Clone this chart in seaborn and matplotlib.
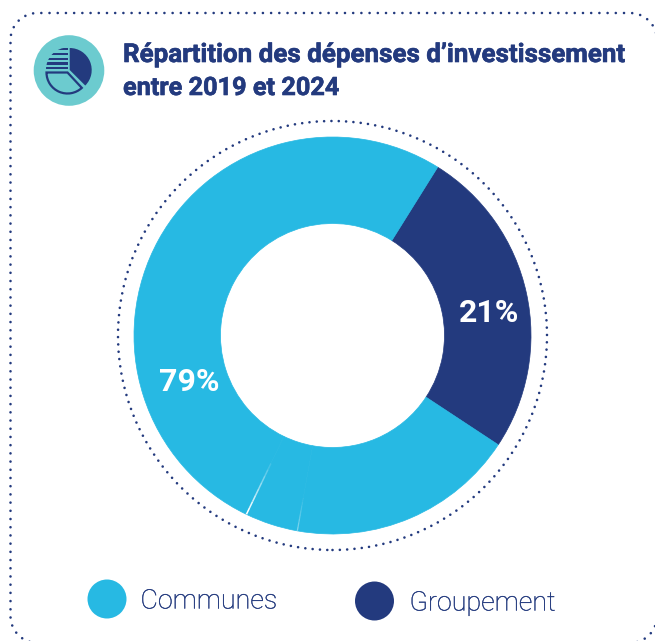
import numpy as np
import matplotlib
matplotlib.use("Agg")
import matplotlib.pyplot as plt
import matplotlib.patheffects as pe
from matplotlib.patches import Circle, Wedge, Rectangle
import seaborn as sns

# --- data ---
categories = ["Groupement", "Communes", "Communes", "Communes"]
slice_degrees = [91.4, 66.8, 15.5, 186.3]
slice_labels = ["21%", "", "", "79%"]
legend_labels = ["Communes", "Groupement"]
title_lines = ["Répartition des dépenses d’investissement", "entre 2019 et 2024"]

BLUE = "#27B9E3"
NAVY = "#233A7E"
TEAL = "#6CCBCF"
palette = sns.color_palette([NAVY, BLUE])

sns.set_theme(style="white")
plt.rcParams["font.family"] = ["Roboto", "DejaVu Sans"]

W, H = 655, 641
fig = plt.figure(figsize=(W / 100, H / 100), dpi=100)
ax = fig.add_axes([0, 0, 1, 1])


def Y(y):
    return H - y


CX, CY, R_OUT, R_IN = 332.5, Y(335.5), 198.5, 112
colors = [palette[0] if c == "Groupement" else palette[1] for c in categories]
START = 90 - 32
wedges, _ = ax.pie(slice_degrees, colors=colors, startangle=START, counterclock=False,
                   radius=R_OUT, center=(CX, CY),
                   wedgeprops=dict(width=R_OUT - R_IN, linewidth=0))
for w in wedges:
    w.set_edgecolor(w.get_facecolor())
    w.set_linewidth(0.5)
ax.set_xlim(0, W)
ax.set_ylim(0, H)
ax.set_aspect("equal")
ax.axis("off")

# thin seams between the Communes pieces, fading towards the hole
cum = np.cumsum(slice_degrees)
for deg, alpha, lw, r_start in [(cum[1], 0.4, 0.9, 165), (cum[2], 1.0, 1.1, 142)]:
    a = np.deg2rad(START - deg)
    edges = np.linspace(r_start, R_OUT, 9)
    for i in range(8):
        f = (i + 1) / 8
        ax.plot([CX + edges[i] * np.cos(a), CX + edges[i + 1] * np.cos(a)],
                [CY + edges[i] * np.sin(a), CY + edges[i + 1] * np.sin(a)],
                color="white", lw=lw, alpha=alpha * f, solid_capstyle="butt", zorder=3)

# dotted circle
ax.add_patch(Circle((CX, CY), 214.5, fill=False, edgecolor=NAVY, lw=1.9,
                    linestyle=(0, (0.01, 2.77)), capstyle="round", zorder=2))

# dotted frame, rounded with true circular arcs (right and bottom sides run off the canvas)
L, R, T, B, RAD = 10.5, 657.0, Y(13), Y(643), 27.0
fx, fy = [], []
for cx, cy, a0 in [(R - RAD, T - RAD, 0), (L + RAD, T - RAD, 90),
                   (L + RAD, B + RAD, 180), (R - RAD, B + RAD, 270)]:
    t = np.deg2rad(np.linspace(a0, a0 + 90, 25))
    fx.extend(cx + RAD * np.cos(t))
    fy.extend(cy + RAD * np.sin(t))
fx.append(fx[0])
fy.append(fy[0])
ax.plot(fx, fy, color=NAVY, lw=1.9, linestyle=(0, (0.01, 3.1)), dash_capstyle="round")

# percentage labels
ax.text(489.5, Y(313), slice_labels[0], color="white", fontsize=23, fontweight="bold",
        ha="center", va="center", zorder=4)
ax.text(189, Y(382), slice_labels[3], color="white", fontsize=23, fontweight="bold",
        ha="center", va="center", zorder=4)

# title
heavy = [pe.withStroke(linewidth=0.45, foreground=NAVY)]
ax.text(123, Y(55), title_lines[0], color=NAVY, fontsize=18.7, fontweight="bold", ha="left", va="center",
        path_effects=heavy)
ax.text(123, Y(88), title_lines[1], color=NAVY, fontsize=18.2, fontweight="bold", ha="left", va="center",
        path_effects=heavy)

# legend
thin = [pe.withStroke(linewidth=0.2, foreground=NAVY)]
ax.add_patch(Circle((107, Y(599)), 19.5, color=palette[1], lw=0))
ax.text(140.5, Y(601), legend_labels[0], color=NAVY, fontsize=19.35, fontweight="light", ha="left", va="center",
        path_effects=thin)
ax.add_patch(Circle((374.5, Y(601)), 19.5, color=palette[0], lw=0))
ax.text(409.5, Y(603), legend_labels[1], color=NAVY, fontsize=19.35, fontweight="light", ha="left", va="center",
        path_effects=thin)

# icon
ICX, ICY = 69, Y(70.5)
ax.add_patch(Circle((ICX, ICY), 35.3, color=TEAL, lw=0))
ax.add_patch(Wedge((ICX + 0.7, ICY + 0.5), 22, -45, 90, color=NAVY, lw=0, zorder=3))
ax.add_patch(Wedge((ICX - 1.5, ICY - 2), 21, 180, 313, fill=False, edgecolor=NAVY, lw=1.6, zorder=3))
clip = Wedge((ICX - 1, ICY + 1), 22, 90, 180, transform=ax.transData)
for sy, h in zip([49.3, 54, 59, 63.3, 67.7], [1.6, 2.4, 2.4, 2.4, 2.4]):
    r = ax.add_patch(Rectangle((ICX - 24, Y(sy) - h / 2), 24, h, color=NAVY, lw=0, zorder=3))
    r.set_clip_path(clip)

fig.savefig("out.png", dpi=100)
